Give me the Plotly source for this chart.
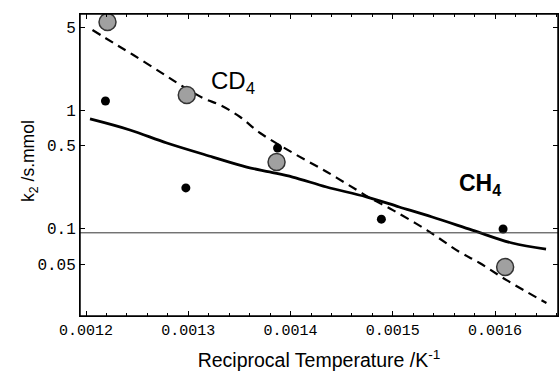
import plotly.graph_objects as go

# CD4 measured points (large hatched circles)
cd4_x = [0.001221, 0.0012985, 0.0013863, 0.0016098]
cd4_y = [5.53, 1.34, 0.364, 0.0473]

# CH4 measured points (black dots)
ch4_x = [0.001219, 0.0012976, 0.0013873, 0.0014888, 0.0016078]
ch4_y = [1.19, 0.22, 0.478, 0.120, 0.099]

# CD4 fit curve (dashed)
cd4_fit_x = [0.0012063, 0.0012268, 0.0012463, 0.0012727, 0.0012922, 0.0013146,
             0.0013312, 0.0013507, 0.0013702, 0.0014024, 0.0014356, 0.0014649,
             0.0014776, 0.0015000, 0.0015332, 0.0015654, 0.0015849, 0.0016112,
             0.0016502]
cd4_fit_y = [4.73, 3.68, 2.91, 2.09, 1.63, 1.26, 1.10, 0.873, 0.640, 0.434,
             0.300, 0.211, 0.181, 0.143, 0.097, 0.0633, 0.0512, 0.0367, 0.0235]

# CH4 fit curve (solid)
ch4_fit_x = [0.0012039, 0.0012429, 0.0012790, 0.0013239, 0.0013571, 0.0013795,
             0.0014020, 0.0014351, 0.0014741, 0.0015063, 0.0015385, 0.0015776,
             0.0016166, 0.0016498]
ch4_fit_y = [0.840, 0.678, 0.527, 0.401, 0.330, 0.300, 0.272, 0.224, 0.185,
             0.152, 0.125, 0.097, 0.0755, 0.0671]

x_ticks = [0.0012, 0.0013, 0.0014, 0.0015, 0.0016]
x_tick_text = ["0.0012", "0.0013", "0.0014", "0.0015", "0.0016"]
y_ticks = [0.05, 0.1, 0.5, 1, 5]
y_tick_text = ["0.05", "0.1", "0.5", "1", "5"]
ref_level = 0.092

fig = go.Figure()
fig.add_trace(go.Scatter(x=ch4_fit_x, y=ch4_fit_y, mode="lines",
                         line=dict(color="black", width=2.8, shape="spline"),
                         showlegend=False))
fig.add_trace(go.Scatter(x=cd4_fit_x, y=cd4_fit_y, mode="lines",
                         line=dict(color="black", width=2.2, dash="9px,6px", shape="spline"),
                         showlegend=False))
fig.add_trace(go.Scatter(x=cd4_x, y=cd4_y, mode="markers",
                         marker=dict(size=17, color="#a0a0a0",
                                     line=dict(color="#333", width=1.5)),
                         showlegend=False))
fig.add_trace(go.Scatter(x=ch4_x, y=ch4_y, mode="markers",
                         marker=dict(size=9, color="black"),
                         showlegend=False))

fig.add_hline(y=ref_level, line=dict(color="#333", width=1))

# plot frame
fig.add_shape(type="rect", xref="paper", yref="paper", x0=0, x1=1, y0=0, y1=1,
              line=dict(color="black", width=1.5), fillcolor="rgba(0,0,0,0)", layer="above")

fig.add_annotation(x=0.0013434, y=0.228, xref="x", yref="y", yanchor="middle",
                   text="CD<sub>4</sub>", showarrow=False,
                   font=dict(family="Liberation Sans", size=24, color="black"))
fig.add_annotation(x=0.001585, y=-0.63, xref="x", yref="y",
                   text="<b>CH<sub>4</sub></b>", showarrow=False,
                   font=dict(family="Liberation Sans", size=23, color="black"))
fig.add_annotation(x=-0.134, y=0.515, xref="paper", yref="paper",
                   text="k<sub>2</sub> /s.mmol", textangle=-90, showarrow=False,
                   font=dict(family="Liberation Sans", size=17.5, color="black"))

fig.update_xaxes(range=[0.0011941, 0.0016615], tickvals=x_ticks, ticktext=x_tick_text,
                 ticks="inside", ticklen=5, tickcolor="black", tickwidth=1,
                 showline=True, linecolor="black", linewidth=1, mirror="allticks",
                 showgrid=False, zeroline=False,
                 minor=dict(dtick=0.00002, ticks="inside", ticklen=3, tickcolor="black"),
                 tickfont=dict(family="Liberation Mono", size=15, color="black"),
                 title=dict(text="Reciprocal Temperature /K<sup>-1</sup>", standoff=14,
                            font=dict(family="Liberation Sans", size=19.5, color="black")))
fig.update_yaxes(type="log", range=[-1.738, 0.810], tickvals=y_ticks, ticktext=y_tick_text,
                 ticks="inside", ticklen=5, tickcolor="black", tickwidth=1,
                 showline=True, linecolor="black", linewidth=1, mirror="allticks",
                 showgrid=False, zeroline=False,
                 tickfont=dict(family="Liberation Mono", size=16, color="black"))

fig.update_layout(width=560, height=375, margin=dict(l=80, r=2, t=14, b=59),
                  plot_bgcolor="white", paper_bgcolor="white", showlegend=False)

fig.write_html("out.html", config={"displayModeBar": False},
               post_script="document.body.style.margin='0px';document.body.style.overflow='hidden';")
